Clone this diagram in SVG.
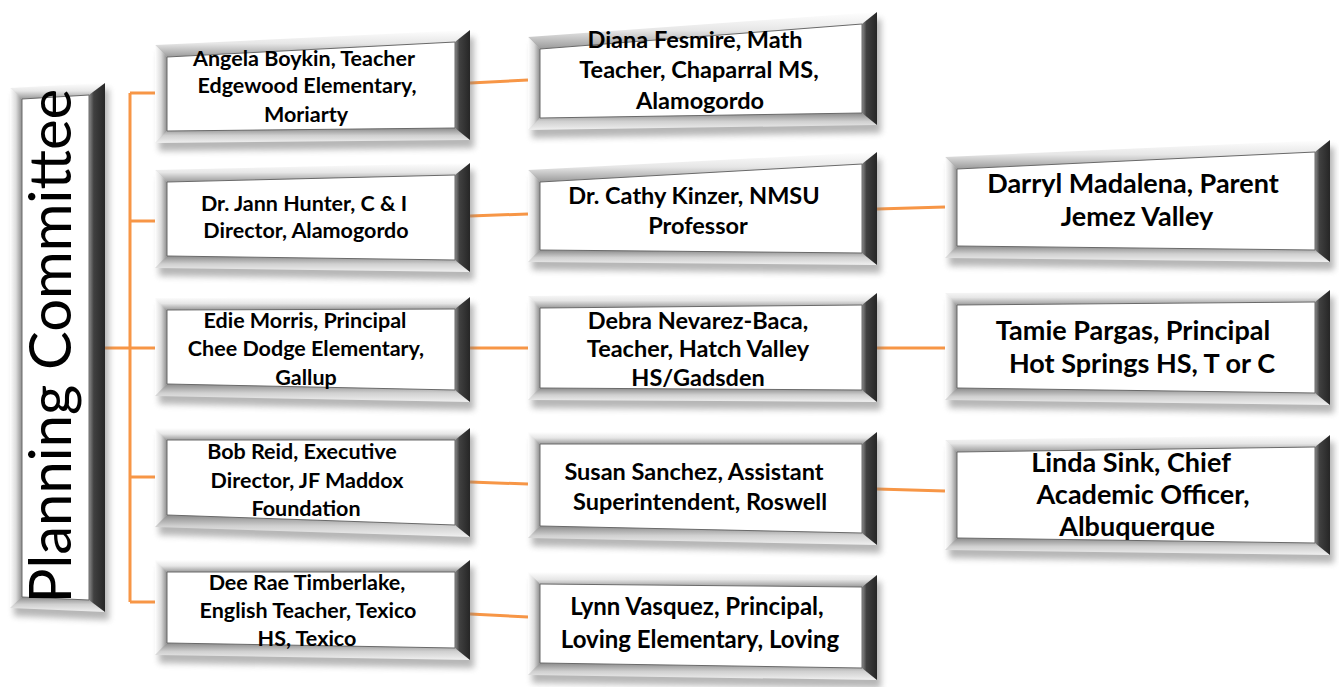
<svg xmlns="http://www.w3.org/2000/svg" width="1339" height="687" viewBox="0 0 1339 687">
<defs>
<linearGradient id="gTop" x1="0" y1="0" x2="0" y2="1"><stop offset="0" stop-color="#ffffff"/><stop offset="0.5" stop-color="#e6e6e6"/><stop offset="1" stop-color="#9a9a9a"/></linearGradient>
<linearGradient id="gLeft" x1="0" y1="0" x2="1" y2="0"><stop offset="0" stop-color="#ffffff"/><stop offset="0.5" stop-color="#dcdcdc"/><stop offset="1" stop-color="#8c8c8c"/></linearGradient>
<linearGradient id="gBot" x1="0" y1="0" x2="0" y2="1"><stop offset="0" stop-color="#8a8a8a"/><stop offset="0.5" stop-color="#d0d0d0"/><stop offset="1" stop-color="#f0f0f0"/></linearGradient>
<linearGradient id="gRight" x1="0" y1="0" x2="1" y2="0"><stop offset="0" stop-color="#8a8a8a"/><stop offset="0.3" stop-color="#404040"/><stop offset="1" stop-color="#262626"/></linearGradient>
<filter id="sh" x="-10%" y="-10%" width="120%" height="130%"><feGaussianBlur stdDeviation="3"/></filter>
</defs>
<style>
.shadow{fill:#7a7a7a;opacity:0.55;filter:url(#sh)}
.bt{fill:url(#gTop)}
.bl{fill:url(#gLeft)}
.bb{fill:url(#gBot)}
.br{fill:url(#gRight)}
.face{fill:#ffffff;stroke:#6a6a6a;stroke-width:1}
.t1{font-family:Lato,"Liberation Sans",sans-serif;font-weight:bold;font-size:21.5px;fill:#000;text-anchor:middle}
.t2{font-family:Lato,"Liberation Sans",sans-serif;font-weight:bold;font-size:23.5px;fill:#000;text-anchor:middle}
.t3{font-family:Lato,"Liberation Sans",sans-serif;font-weight:bold;font-size:27px;fill:#000;text-anchor:middle}
.tp{font-family:Lato,"Liberation Sans",sans-serif;font-size:58px;fill:#000;text-anchor:middle}
.con{stroke:#F79646;stroke-width:3;fill:none}
</style>

<g id="connectors">
<path class="con" d="M105 348 H130 M130 93 V602 M130 93 H155 M130 221 H155 M130 348 H155 M130 477 H155 M130 602 H155"/>
<line class="con" x1="470" y1="83" x2="528" y2="80"/>
<line class="con" x1="470" y1="216" x2="528" y2="214"/>
<line class="con" x1="470" y1="348" x2="528" y2="348"/>
<line class="con" x1="470" y1="482" x2="528" y2="484"/>
<line class="con" x1="470" y1="614" x2="528" y2="617"/>
<line class="con" x1="877" y1="209" x2="945" y2="207"/>
<line class="con" x1="877" y1="348" x2="945" y2="348"/>
<line class="con" x1="877" y1="489" x2="945" y2="491"/>
</g>

<g id="planning">
<polygon class="shadow" points="14,94 109,89 109,620 14,616"/>
<polygon class="bt" points="10,88 105,83 89,95 22,99"/>
<polygon class="bl" points="10,88 22,99 22,597 10,608"/>
<polygon class="bb" points="10,608 22,597 89,600 105,612"/>
<polygon class="br" points="105,83 105,612 89,600 89,95"/>
<polygon class="face" points="22,99 89,95 89,600 22,597"/>
<text class="tp" transform="translate(71,346) rotate(-90)">Planning Committee</text>
</g>

<g id="angela">
<polygon class="shadow" points="159,52 474,37 474,148 159,151"/>
<polygon class="bt" points="155,45 470,30 455,42 167,57"/>
<polygon class="bl" points="155,45 167,57 167,131 155,143"/>
<polygon class="bb" points="155,143 167,131 455,128 470,140"/>
<polygon class="br" points="470,30 470,140 455,128 455,42"/>
<polygon class="face" points="167,57 455,42 455,128 167,131"/>
<text class="t1" x="304" y="66">Angela Boykin, Teacher</text>
<text class="t1" x="307" y="93">Edgewood Elementary,</text>
<text class="t1" x="306" y="122">Moriarty</text>
</g>

<g id="jann">
<polygon class="shadow" points="159,177 474,170 474,280 159,276"/>
<polygon class="bt" points="155,170 470,163 455,175 167,182"/>
<polygon class="bl" points="155,170 167,182 167,256 155,268"/>
<polygon class="bb" points="155,268 167,256 455,260 470,272"/>
<polygon class="br" points="470,163 470,272 455,260 455,175"/>
<polygon class="face" points="167,182 455,175 455,260 167,256"/>
<text class="t1" x="304" y="211">Dr. Jann Hunter, C &amp; I</text>
<text class="t1" x="306" y="238">Director, Alamogordo</text>
</g>

<g id="edie">
<polygon class="shadow" points="159,305 474,304 474,410 159,404"/>
<polygon class="bt" points="155,298 470,297 455,309 167,310"/>
<polygon class="bl" points="155,298 167,310 167,384 155,396"/>
<polygon class="bb" points="155,396 167,384 455,390 470,402"/>
<polygon class="br" points="470,297 470,402 455,390 455,309"/>
<polygon class="face" points="167,310 455,309 455,390 167,384"/>
<text class="t1" x="305" y="328">Edie Morris, Principal</text>
<text class="t1" x="306" y="356">Chee Dodge Elementary,</text>
<text class="t1" x="306" y="385">Gallup</text>
</g>

<g id="bob">
<polygon class="shadow" points="159,435 474,435 474,545 159,535"/>
<polygon class="bt" points="155,428 470,428 455,440 167,440"/>
<polygon class="bl" points="155,428 167,440 167,515 155,527"/>
<polygon class="bb" points="155,527 167,515 455,525 470,537"/>
<polygon class="br" points="470,428 470,537 455,525 455,440"/>
<polygon class="face" points="167,440 455,440 455,525 167,515"/>
<text class="t1" x="302" y="459">Bob Reid, Executive</text>
<text class="t1" x="307" y="488">Director, JF Maddox</text>
<text class="t1" x="306" y="516">Foundation</text>
</g>

<g id="deerae">
<polygon class="shadow" points="159,567 474,567 474,668 159,663"/>
<polygon class="bt" points="155,560 470,560 455,572 167,572"/>
<polygon class="bl" points="155,560 167,572 167,643 155,655"/>
<polygon class="bb" points="155,655 167,643 455,648 470,660"/>
<polygon class="br" points="470,560 470,660 455,648 455,572"/>
<polygon class="face" points="167,572 455,572 455,648 167,643"/>
<text class="t1" x="307" y="590">Dee Rae Timberlake,</text>
<text class="t1" x="308" y="618">English Teacher, Texico</text>
<text class="t1" x="307" y="646">HS, Texico</text>
</g>

<g id="diana">
<polygon class="shadow" points="532,44 881,19 881,133 532,138"/>
<polygon class="bt" points="528,37 877,12 862,24 540,49"/>
<polygon class="bl" points="528,37 540,49 540,118 528,130"/>
<polygon class="bb" points="528,130 540,118 862,113 877,125"/>
<polygon class="br" points="877,12 877,125 862,113 862,24"/>
<polygon class="face" points="540,49 862,24 862,113 540,118"/>
<text class="t2" x="695" y="48">Diana Fesmire, Math</text>
<text class="t2" x="699" y="78">Teacher, Chaparral MS,</text>
<text class="t2" x="700" y="109">Alamogordo</text>
</g>

<g id="cathy">
<polygon class="shadow" points="532,177 881,159 881,273 532,270"/>
<polygon class="bt" points="528,170 877,152 862,164 540,182"/>
<polygon class="bl" points="528,170 540,182 540,250 528,262"/>
<polygon class="bb" points="528,262 540,250 862,253 877,265"/>
<polygon class="br" points="877,152 877,265 862,253 862,164"/>
<polygon class="face" points="540,182 862,164 862,253 540,250"/>
<text class="t2" x="694" y="204">Dr. Cathy Kinzer, NMSU</text>
<text class="t2" x="698" y="234">Professor</text>
</g>

<g id="debra">
<polygon class="shadow" points="532,303 881,300 881,410 532,408"/>
<polygon class="bt" points="528,296 877,293 862,305 540,308"/>
<polygon class="bl" points="528,296 540,308 540,388 528,400"/>
<polygon class="bb" points="528,400 540,388 862,390 877,402"/>
<polygon class="br" points="877,293 877,402 862,390 862,305"/>
<polygon class="face" points="540,308 862,305 862,390 540,388"/>
<text class="t2" x="698" y="329">Debra Nevarez-Baca,</text>
<text class="t2" x="698" y="357">Teacher, Hatch Valley</text>
<text class="t2" x="698" y="386">HS/Gadsden</text>
</g>

<g id="susan">
<polygon class="shadow" points="532,439 881,439 881,553 532,546"/>
<polygon class="bt" points="528,432 877,432 862,444 540,444"/>
<polygon class="bl" points="528,432 540,444 540,526 528,538"/>
<polygon class="bb" points="528,538 540,526 862,533 877,545"/>
<polygon class="br" points="877,432 877,545 862,533 862,444"/>
<polygon class="face" points="540,444 862,444 862,533 540,526"/>
<text class="t2" x="694" y="480">Susan Sanchez, Assistant</text>
<text class="t2" x="700" y="510">Superintendent, Roswell</text>
</g>

<g id="lynn">
<polygon class="shadow" points="532,579 881,582 881,688 532,683"/>
<polygon class="bt" points="528,572 877,575 862,587 540,584"/>
<polygon class="bl" points="528,572 540,584 540,663 528,675"/>
<polygon class="bb" points="528,675 540,663 862,668 877,680"/>
<polygon class="br" points="877,575 877,680 862,668 862,587"/>
<polygon class="face" points="540,584 862,587 862,668 540,663"/>
<text class="t2" x="697" y="615" style="font-size:24px">Lynn Vasquez, Principal,</text>
<text class="t2" x="700" y="648" style="font-size:24px">Loving Elementary, Loving</text>
</g>

<g id="darryl">
<polygon class="shadow" points="949,164 1334,147 1334,270 949,266"/>
<polygon class="bt" points="945,157 1330,140 1315,152 957,169"/>
<polygon class="bl" points="945,157 957,169 957,246 945,258"/>
<polygon class="bb" points="945,258 957,246 1315,250 1330,262"/>
<polygon class="br" points="1330,140 1330,262 1315,250 1315,152"/>
<polygon class="face" points="957,169 1315,152 1315,250 957,246"/>
<text class="t3" x="1133" y="193">Darryl Madalena, Parent</text>
<text class="t3" x="1137" y="226">Jemez Valley</text>
</g>

<g id="tamie">
<polygon class="shadow" points="949,300 1334,297 1334,413 949,408"/>
<polygon class="bt" points="945,293 1330,290 1315,302 957,305"/>
<polygon class="bl" points="945,293 957,305 957,388 945,400"/>
<polygon class="bb" points="945,400 957,388 1315,393 1330,405"/>
<polygon class="br" points="1330,290 1330,405 1315,393 1315,302"/>
<polygon class="face" points="957,305 1315,302 1315,393 957,388"/>
<text class="t3" x="1133" y="340">Tamie Pargas, Principal</text>
<text class="t3" x="1142" y="373">Hot Springs HS, T or C</text>
</g>

<g id="linda">
<polygon class="shadow" points="949,447 1334,442 1334,563 949,558"/>
<polygon class="bt" points="945,440 1330,435 1315,447 957,452"/>
<polygon class="bl" points="945,440 957,452 957,538 945,550"/>
<polygon class="bb" points="945,550 957,538 1315,543 1330,555"/>
<polygon class="br" points="1330,435 1330,555 1315,543 1315,447"/>
<polygon class="face" points="957,452 1315,447 1315,543 957,538"/>
<text class="t3" x="1131" y="472">Linda Sink, Chief</text>
<text class="t3" x="1143" y="504">Academic Officer,</text>
<text class="t3" x="1137" y="536">Albuquerque</text>
</g>
</svg>
